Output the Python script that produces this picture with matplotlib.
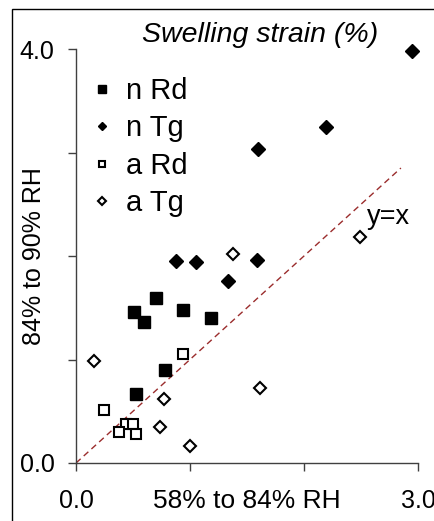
import matplotlib
matplotlib.use('Agg')
import matplotlib.pyplot as plt
from matplotlib.patches import Rectangle

plt.rcParams['font.family'] = ['Liberation Sans', 'DejaVu Sans']

# dados (58-84% RH vs 84-90% RH)
n_rd_x = [0.705, 0.51, 0.60, 0.935, 1.18, 0.78, 0.53]
n_rd_y = [1.59, 1.46, 1.36, 1.48, 1.40, 0.90, 0.67]

n_tg_x = [2.95, 2.19, 1.60, 0.88, 1.05, 1.59, 1.33]
n_tg_y = [3.98, 3.25, 3.03, 1.95, 1.94, 1.96, 1.76]

a_rd_x = [0.935, 0.25, 0.436, 0.497, 0.377, 0.53]
a_rd_y = [1.05, 0.51, 0.38, 0.38, 0.30, 0.28]

a_tg_x = [2.49, 1.38, 0.155, 1.61, 0.77, 0.74, 1.00]
a_tg_y = [2.18, 2.02, 0.99, 0.72, 0.62, 0.35, 0.16]

linha_x = [0, 2.85]
linha_y = [0, 2.85]

x_ticks = [0, 1, 2, 3]
x_rotulos = ['0.0', '', '', '3.0']
y_ticks = [0, 1, 2, 3, 4]
y_rotulos = ['0.0', '', '', '', '4.0']

fig = plt.figure(figsize=(4.35, 5.21), dpi=100)
ax = fig.add_axes([76 / 435, 1 - 463 / 521, 342 / 435, 414 / 521])

# moldura da figura
fig.patches.append(Rectangle((12 / 435, -0.1), 1.2, 1 - 9 / 521 + 0.1,
                             transform=fig.transFigure, fill=False,
                             edgecolor='black', linewidth=1.0))

ax.plot(linha_x, linha_y, color='#9B2D2D', linewidth=1.0, dashes=(4.5, 3.0))

ax.plot(n_rd_x, n_rd_y, 's', color='black', markersize=8.5, linestyle='none',
        label='n Rd', clip_on=False)
ax.plot(n_tg_x, n_tg_y, 'D', color='black', markersize=7.3, linestyle='none',
        label='n Tg', clip_on=False)
ax.plot(a_rd_x, a_rd_y, 's', markerfacecolor='white', markeredgecolor='black',
        markeredgewidth=1.5, markersize=7.5, linestyle='none', label='a Rd',
        clip_on=False)
ax.plot(a_tg_x, a_tg_y, 'D', markerfacecolor='white', markeredgecolor='black',
        markeredgewidth=1.5, markersize=6.2, linestyle='none', label='a Tg',
        clip_on=False)

ax.set_xlim(0, 3)
ax.set_ylim(0, 4)
ax.set_xticks(x_ticks)
ax.set_xticklabels(x_rotulos)
ax.set_yticks(y_ticks)
ax.set_yticklabels(y_rotulos)
ax.tick_params(axis='both', direction='out', length=6, width=1, color='#404040',
               labelsize=18)
ax.tick_params(axis='y', pad=9.5)
ax.tick_params(axis='x', pad=13)

for lado in ['top', 'right']:
    ax.spines[lado].set_visible(False)
for lado in ['left', 'bottom']:
    ax.spines[lado].set_color('#404040')
    ax.spines[lado].set_linewidth(1.0)

ax.text(0.5, -0.092, '58% to 84% RH', transform=ax.transAxes, ha='center',
        va='center', fontsize=19)
ax.text(-0.123, 0.5, '84% to 90% RH', transform=ax.transAxes, ha='center',
        va='center', rotation=90, fontsize=18)
ax.text(2.55, 2.38, 'y=x', fontsize=19.5, va='center', ha='left')

fig.text(260 / 435, 1 - 35 / 521, 'Swelling strain (%)', ha='center', va='center',
         fontsize=20.5, style='italic')

leg = ax.legend(loc='upper left', bbox_to_anchor=(0.05, 0.932), frameon=False,
                fontsize=21, markerscale=0.6, handlelength=0.6, handletextpad=0.52,
                labelspacing=0.32, borderaxespad=0, borderpad=0)

plt.savefig('out.png', dpi=100)
